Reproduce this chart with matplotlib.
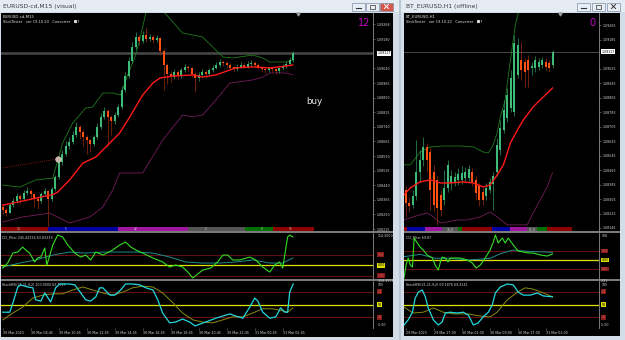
import matplotlib
matplotlib.use("Agg")
import matplotlib.pyplot as plt
from matplotlib.patches import Rectangle
from matplotlib.transforms import blended_transform_factory as blend

# ---------------- left chart: EURUSD M15 ----------------
L_OPEN = [1.08330, 1.08315, 1.08300, 1.08340, 1.08360, 1.08385, 1.08370, 1.08400, 1.08410, 1.08395,
          1.08370, 1.08360, 1.08395, 1.08410, 1.08370, 1.08420, 1.08480, 1.08560, 1.08600, 1.08640,
          1.08660, 1.08700, 1.08740, 1.08715, 1.08690, 1.08670, 1.08650, 1.08690, 1.08740, 1.08790,
          1.08820, 1.08790, 1.08770, 1.08800, 1.08840, 1.08930, 1.09000, 1.09080, 1.09150, 1.09200,
          1.09180, 1.09210, 1.09190, 1.09200, 1.09185, 1.09195, 1.09130, 1.09060, 1.09010, 1.08995,
          1.09020, 1.09000, 1.09030, 1.09050, 1.09040, 1.09010, 1.08990, 1.09005, 1.09020, 1.09010,
          1.09030, 1.09045, 1.09060, 1.09075, 1.09070, 1.09060, 1.09045, 1.09035, 1.09050, 1.09060,
          1.09050, 1.09065, 1.09070, 1.09060, 1.09045, 1.09035, 1.09030, 1.09040, 1.09035, 1.09025,
          1.09040, 1.09055, 1.09065, 1.09085]
L_CLOSE = [1.08315, 1.08300, 1.08340, 1.08360, 1.08385, 1.08370, 1.08400, 1.08410, 1.08395, 1.08370,
           1.08360, 1.08395, 1.08410, 1.08370, 1.08420, 1.08480, 1.08560, 1.08600, 1.08640, 1.08660,
           1.08700, 1.08740, 1.08715, 1.08690, 1.08670, 1.08650, 1.08690, 1.08740, 1.08790, 1.08820,
           1.08790, 1.08770, 1.08800, 1.08840, 1.08930, 1.09000, 1.09080, 1.09150, 1.09200, 1.09180,
           1.09210, 1.09190, 1.09200, 1.09185, 1.09195, 1.09130, 1.09060, 1.09010, 1.08995, 1.09020,
           1.09000, 1.09030, 1.09050, 1.09040, 1.09010, 1.08990, 1.09005, 1.09020, 1.09010, 1.09030,
           1.09045, 1.09060, 1.09075, 1.09070, 1.09060, 1.09045, 1.09035, 1.09050, 1.09060, 1.09050,
           1.09065, 1.09070, 1.09060, 1.09045, 1.09035, 1.09030, 1.09040, 1.09035, 1.09025, 1.09040,
           1.09055, 1.09065, 1.09085, 1.09117]
L_HIGH = [1.08345, 1.08325, 1.08350, 1.08375, 1.08400, 1.08395, 1.08415, 1.08430, 1.08420, 1.08400,
          1.08380, 1.08405, 1.08425, 1.08415, 1.08430, 1.08495, 1.08585, 1.08620, 1.08665, 1.08690,
          1.08720, 1.08765, 1.08750, 1.08725, 1.08700, 1.08680, 1.08700, 1.08760, 1.08810, 1.08840,
          1.08830, 1.08800, 1.08815, 1.08860, 1.08950, 1.09020, 1.09100, 1.09175, 1.09225, 1.09210,
          1.09230, 1.09250, 1.09215, 1.09210, 1.09210, 1.09200, 1.09140, 1.09070, 1.09025, 1.09035,
          1.09030, 1.09045, 1.09065, 1.09060, 1.09050, 1.09020, 1.09020, 1.09035, 1.09030, 1.09045,
          1.09060, 1.09075, 1.09090, 1.09085, 1.09080, 1.09070, 1.09055, 1.09065, 1.09075, 1.09070,
          1.09080, 1.09085, 1.09080, 1.09070, 1.09055, 1.09045, 1.09050, 1.09050, 1.09045, 1.09050,
          1.09065, 1.09080, 1.09100, 1.09130]
L_LOW = [1.08290, 1.08280, 1.08295, 1.08330, 1.08350, 1.08345, 1.08360, 1.08390, 1.08370, 1.08330,
         1.08320, 1.08350, 1.08385, 1.08215, 1.08360, 1.08410, 1.08470, 1.08545, 1.08590, 1.08625,
         1.08650, 1.08690, 1.08680, 1.08640, 1.08600, 1.08610, 1.08640, 1.08680, 1.08730, 1.08780,
         1.08640, 1.08700, 1.08755, 1.08790, 1.08830, 1.08920, 1.08990, 1.09070, 1.09140, 1.09160,
         1.09170, 1.09175, 1.09180, 1.09170, 1.09175, 1.09110, 1.08930, 1.08960, 1.08970, 1.08985,
         1.08980, 1.08990, 1.09020, 1.09025, 1.08995, 1.08920, 1.08975, 1.08995, 1.08990, 1.09000,
         1.09020, 1.09035, 1.09050, 1.09055, 1.09045, 1.09030, 1.09020, 1.09025, 1.09040, 1.09040,
         1.09040, 1.09055, 1.09050, 1.09035, 1.09020, 1.09015, 1.09020, 1.09020, 1.09010, 1.09015,
         1.09030, 1.09045, 1.09055, 1.09075]

L_MA_X = [0, 5.7, 12.3, 14.3, 15.7, 19.1, 22.9, 26.6, 28.6, 33.4, 36.3, 40, 42.9, 44.9, 48.6, 54.3,
          57.1, 60.9, 66.6, 71.4, 76.3, 79.1, 82.9]
L_MA = [1.08338, 1.08359, 1.08385, 1.08392, 1.08405, 1.08467, 1.08554, 1.08585, 1.08621, 1.08708,
        1.08791, 1.08904, 1.08965, 1.08991, 1.09001, 1.09007, 1.08996, 1.09007, 1.09043, 1.09048,
        1.09043, 1.09048, 1.09058]
L_UP_X = [0, 4.9, 9.4, 14.3, 17.1, 20, 23.7, 25.7, 28.6, 31.4, 33.7, 35.7, 37.7, 39.1, 40.9, 42.9,
          44.6, 46.3, 48.6, 51.4, 57.1, 60, 62.9, 65.7, 71.4, 74.3, 76.3, 80.9, 82.9]
L_UP = [1.08441, 1.08431, 1.08467, 1.08477, 1.08657, 1.08760, 1.08837, 1.08842, 1.08914, 1.08914,
        1.08904, 1.09007, 1.09094, 1.09186, 1.09325, 1.09418, 1.09418, 1.09325, 1.09279, 1.09222,
        1.09202, 1.09150, 1.09099, 1.09094, 1.09109, 1.09094, 1.09073, 1.09073, 1.09084]
L_DN_X = [0, 5.7, 13.4, 19.1, 24.9, 28.6, 31.4, 33.4, 40, 45.7, 51.4, 54.3, 57.1, 60.9, 64.9, 71.4,
          74.3, 76.3, 80.9, 82.9]
L_DN = [1.08251, 1.08277, 1.08297, 1.08246, 1.08277, 1.08328, 1.08415, 1.08503, 1.08503, 1.08672,
        1.08801, 1.08791, 1.08801, 1.08878, 1.08965, 1.08981, 1.08996, 1.09017, 1.09017, 1.09007]
TRADE_X = [0, 15.7]
TRADE_Y = [1.08529, 1.08575]

L_PRICE_TICKS = [1.09268, 1.09190, 1.09040, 1.08965, 1.08890, 1.08815, 1.08740, 1.08665,
                 1.08590, 1.08515, 1.08440, 1.08365, 1.08290, 1.08215]
CURRENT_PRICE = 1.09117

L_STRIP = [(-0.5, 12.9, "#8e0000", "14"), (12.9, 32.9, "#0000a0", "5"), (32.9, 52.9, "#a016a0", "22"),
           (52.9, 69.1, "#555555", "2"), (69.1, 77.1, "#007000", "0"), (77.1, 88.9, "#8e0000", "15")]

L_CCI_X = [0, 1.4, 2.9, 4.3, 5.7, 6.6, 7.7, 9.1, 10, 10.9, 12, 12.6, 14.3, 15.7, 17.1, 18.6, 20.6,
           22.3, 23.7, 25.1, 26.6, 28.6, 31.4, 33.4, 35.1, 36.6, 38, 40, 42.9, 45.7, 47.7, 49.4,
           51.4, 52.9, 54.3, 57.1, 59.4, 61.4, 62.9, 64.3, 65.7, 67.7, 70.6, 72.3, 74.3, 76.3,
           77.7, 79.1, 80, 81.4, 82, 82.9]
L_CCI = [-29, 19, 114, 124, 171, 143, 114, 29, 67, 76, 162, 0, 190, 286, 267, 190, 114, 76, 95, 48,
         124, 95, 143, 190, 219, 171, 143, 114, 67, 29, -19, 0, -19, -67, -124, -48, -29, 29, 95,
         95, 48, 48, 76, 48, -19, -67, 0, 29, -29, 267, 286, 267]
L_CCI_SIG_X = [0, 4.9, 9.4, 14.3, 19.1, 23.7, 28.6, 33.4, 38, 42.9, 47.7, 52.3, 57.1, 62, 66.6,
               71.4, 76.3, 80, 82.9]
L_CCI_SIG = [-19, 19, 48, 95, 124, 114, 124, 124, 124, 114, 76, 29, 19, 19, 29, 48, 19, 19, 67]

L_ST_X = [0, 2, 2.9, 4.3, 5.1, 7.1, 8.6, 9.4, 10.9, 12, 13.7, 15.1, 16.3, 17.1, 19.1, 20.6, 22.3,
          23.7, 25.1, 26.6, 27.7, 28.6, 30.6, 32, 33.7, 35.1, 37.1, 39.1, 40.9, 42.9, 44.3, 45.7,
          47.7, 49.4, 51.4, 53.4, 54.9, 56.3, 58, 60.9, 64.9, 66.6, 68.6, 70.6, 72, 72.9, 74.3,
          76.3, 78, 79.4, 80.6, 81.4, 82, 83]
L_ST = [32, 32, 54, 91, 96, 91, 89, 61, 58, 77, 56, 89, 98, 98, 98, 96, 77, 61, 58, 68, 89, 89, 72,
        72, 84, 98, 98, 96, 89, 84, 61, 30, 7, 9, 16, 9, 0, 4, 9, 18, 28, 23, 18, 44, 65, 58, 32,
        18, 21, 42, 32, 32, 79, 98]
L_ST_SIG_X = [0, 2.9, 5.7, 8.6, 11.4, 14.3, 17.1, 20, 22.9, 25.7, 28.6, 31.4, 34.3, 37.1, 40, 42.9,
              45.7, 48.6, 51.4, 54.3, 57.1, 60, 62.9, 65.7, 68.6, 71.4, 74.3, 77.1, 80, 81.4, 82.9]
L_ST_SIG = [14, 30, 44, 65, 72, 75, 75, 84, 91, 84, 77, 72, 79, 89, 93, 91, 77, 54, 30, 14, 9, 7,
            14, 21, 21, 30, 40, 40, 35, 32, 42]

L_TIME_TICKS = [0, 8, 16, 24, 32, 40, 48, 56, 64, 72, 80]
L_TIME_LABELS = ["30 Mar 2023", "30 Mar 08:45", "30 Mar 10:45", "30 Mar 12:45", "30 Mar 14:45",
                 "30 Mar 16:45", "30 Mar 18:45", "30 Mar 20:45", "30 Mar 22:45", "31 Mar 00:45",
                 "31 Mar 02:45"]

# ---------------- right chart: BT_EURUSD H1 ----------------
R_OPEN = [1.08356, 1.08284, 1.08273, 1.08323, 1.08455, 1.08521, 1.08593, 1.08565, 1.08455, 1.08411,
          1.08328, 1.08300, 1.08367, 1.08394, 1.08400, 1.08411, 1.08411, 1.08422, 1.08422, 1.08455,
          1.08411, 1.08378, 1.08345, 1.08323, 1.08356, 1.08389, 1.08455, 1.08576, 1.08687, 1.08753,
          1.08808, 1.08786, 1.08990, 1.09073, 1.09062, 1.09073, 1.09029, 1.09029, 1.09034, 1.09045,
          1.09062, 1.09056, 1.09045]
R_CLOSE = [1.08284, 1.08267, 1.08323, 1.08455, 1.08521, 1.08593, 1.08521, 1.08356, 1.08273, 1.08256,
           1.08245, 1.08367, 1.08494, 1.08433, 1.08427, 1.08444, 1.08449, 1.08455, 1.08471, 1.08400,
           1.08339, 1.08300, 1.08300, 1.08367, 1.08400, 1.08433, 1.08604, 1.08698, 1.08797, 1.08880,
           1.08974, 1.09167, 1.09156, 1.09018, 1.09007, 1.09018, 1.09040, 1.09073, 1.09062, 1.09073,
           1.09034, 1.09029, 1.09117]
R_HIGH = [1.08378, 1.08317, 1.08356, 1.08632, 1.08576, 1.08648, 1.08615, 1.08587, 1.08494, 1.08433,
          1.08356, 1.08466, 1.08521, 1.08466, 1.08455, 1.08477, 1.08488, 1.08483, 1.08494, 1.08477,
          1.08433, 1.08394, 1.08367, 1.08394, 1.08422, 1.08455, 1.08643, 1.08742, 1.08852, 1.08918,
          1.09018, 1.09211, 1.09194, 1.09172, 1.09084, 1.09100, 1.09062, 1.09095, 1.09084, 1.09089,
          1.09084, 1.09073, 1.09128]
R_LOW = [1.08207, 1.08234, 1.08256, 1.08300, 1.08400, 1.08488, 1.08455, 1.08245, 1.08234, 1.08163,
         1.08212, 1.08273, 1.08345, 1.08356, 1.08378, 1.08383, 1.08389, 1.08400, 1.08400, 1.08378,
         1.08300, 1.08267, 1.08273, 1.08300, 1.08339, 1.08245, 1.08433, 1.08549, 1.08670, 1.08731,
         1.08786, 1.08764, 1.08974, 1.08963, 1.08924, 1.08924, 1.08990, 1.09007, 1.09018, 1.09029,
         1.09018, 1.09007, 1.09029]

R_MA_X = [-0.5, 1.3, 4.1, 7, 9.9, 12.7, 16.4, 19.3, 22.1, 24.1, 26.1, 27.9, 29.9, 31.9, 33.6, 36.4,
          39.3, 41.9]
R_MA = [1.08328, 1.08367, 1.08400, 1.08411, 1.08394, 1.08394, 1.08400, 1.08394, 1.08372, 1.08383,
        1.08438, 1.08494, 1.08615, 1.08687, 1.08742, 1.08814, 1.08869, 1.08918]
R_UP_X = [-0.5, 1.3, 4.1, 7, 10.7, 15.6, 19.3, 22.1, 23.6, 25, 26.1, 27, 28.4, 29.9, 31.3, 32.7]
R_UP = [1.08494, 1.08494, 1.08565, 1.08593, 1.08598, 1.08598, 1.08593, 1.08565, 1.08560, 1.08604,
        1.08670, 1.08758, 1.08852, 1.09073, 1.09266, 1.09376]
R_DN_X = [-0.5, 2.1, 6.1, 7.9, 9.9, 11.9, 14.7, 17.6, 21.3, 24.1, 26.1, 29, 34.7, 36.4, 38.4, 40.4, 41.9]
R_DN = [1.08190, 1.08207, 1.08229, 1.08207, 1.08174, 1.08179, 1.08190, 1.08190, 1.08207, 1.08234,
        1.08207, 1.08163, 1.08163, 1.08229, 1.08300, 1.08372, 1.08449]

R_PRICE_TICKS = [1.09265, 1.09185, 1.09025, 1.08945, 1.08865, 1.08785, 1.08705, 1.08625,
                 1.08545, 1.08465, 1.08385, 1.08305, 1.08225, 1.08146]

R_STRIP = [(-0.7, 0.4, "#8e0000", ""), (0.4, 5.6, "#0000a0", ""), (5.6, 10.4, "#a016a0", ""),
           (10.4, 15.0, "#555555", "30_0"), (15.0, 16.1, "#007000", ""), (16.1, 24.7, "#8e0000", ""),
           (24.7, 29.9, "#0000a0", ""), (29.9, 34.7, "#a016a0", ""), (34.7, 37.6, "#555555", "31_0"),
           (37.6, 40.4, "#007000", ""), (40.4, 47.6, "#8e0000", "")]

R_CCI_X = [-0.5, 0.1, 0.7, 1.3, 1.9, 2.4, 3.3, 4.1, 5, 6.1, 7.6, 8.4, 9.3, 9.9, 10.4, 11.3, 12.1,
           12.7, 14.1, 15.6, 17.6, 19, 20.1, 21.3, 22.7, 24.1, 25, 25.6, 26.4, 27.6, 28.4, 29.3,
           30.7, 32.1, 33.6, 35, 36.4, 38.4, 40.4, 41.9]
R_CCI = [-200, -56, 22, -56, -78, 244, 189, 144, 111, 56, 22, -56, -111, -22, 33, 22, -22, 22, 22,
         22, 0, -33, -89, -56, 22, 111, 200, 278, 189, 244, 189, 244, 167, 100, 89, 78, 78, 56, 44, 67]
R_CCI_SIG_X = [-0.5, 4.1, 8.4, 12.7, 17.6, 21.3, 24.1, 27, 30.7, 33.6, 36.4, 39.3, 41.9]
R_CCI_SIG = [37, 63, 19, 19, 0, 10, 19, 70, 111, 100, 93, 90, 85]

R_ST_X = [-0.5, 0.7, 1.9, 2.7, 3.6, 4.7, 5.6, 6.4, 7.9, 9.3, 10.4, 11.3, 12.7, 14.7, 16.4, 17.9,
          19.3, 20.7, 22.1, 23.6, 24.7, 25.6, 27, 29, 30.7, 32.1, 33.6, 35.6, 37.6, 39.3, 41.9]
R_ST = [2, 14, 32, 65, 79, 84, 68, 42, 14, 2, 9, 30, 32, 30, 32, 25, 2, 7, 21, 32, 49, 77, 91, 98,
        96, 79, 72, 72, 77, 70, 68]
R_ST_SIG_X = [-0.5, 2.1, 5, 7.9, 10.7, 13.6, 17.6, 21.3, 24.1, 26.1, 29, 31.9, 34.1, 36.4, 39.3, 41.9]
R_ST_SIG = [44, 30, 32, 42, 32, 28, 28, 23, 21, 32, 61, 79, 89, 86, 77, 68]

R_TIME_TICKS = [0, 8, 16, 24, 32, 40]
R_TIME_LABELS = ["29 Mar 2023", "29 Mar 17:00", "30 Mar 01:00", "30 Mar 09:00", "30 Mar 17:00",
                 "31 Mar 01:00"]

# ---------------- figure ----------------
W, H = 625, 340
fig = plt.figure(figsize=(W / 100, H / 100), dpi=100)

GRID = "#8c8c8c"
TXT = "#d6d6d6"
SMALL = 2.3


def px_axes(x0, y0, x1, y1):
    return fig.add_axes([x0 / W, 1 - y1 / H, (x1 - x0) / W, (y1 - y0) / H])


bg = px_axes(0, 0, W, H)
bg.set_xlim(0, W)
bg.set_ylim(H, 0)
bg.axis("off")


def rect(x, y, w, h, fc, ec="none", lw=0.0):
    bg.add_patch(Rectangle((x, y), w, h, facecolor=fc, edgecolor=ec, linewidth=lw))


# window chrome
rect(0, 0, W, H, "#b9c6d6")
for wx, ww in ((0, 399), (401, 224)):
    rect(wx, 0, ww, H, "#d2dde9")
    rect(wx, 0, ww, 12, "#e4ebf3")
rect(1, 13, 392, 324, "black")
rect(404, 13, 216, 323, "black")
for sx, sw in ((1, 392), (404, 216)):
    rect(sx, 231, sw, 2, "#7a7a7a")
    rect(sx, 279, sw, 2, "#7a7a7a")

bg.text(3, 6.5, "EURUSD-cd,M15 (visual)", fontsize=4.3, color="#3c3c3c", va="center")
bg.text(406, 6.5, "BT_EURUSD,H1 (offline)", fontsize=4.3, color="#3c3c3c", va="center")


def button(x, w, fc):
    rect(x, 2.5, w, 8, fc, ec="#7d8fa6", lw=0.5)


for bx, bw, bc in ((352, 13, "#e9eef5"), (366, 13, "#e9eef5"), (380, 13, "#d6574a"),
                   (577, 13, "#e9eef5"), (592, 13, "#e9eef5"), (607, 13, "#e9eef5")):
    button(bx, bw, bc)
for bx in (352, 577):
    bg.plot([bx + 4, bx + 9], [8, 8], color="#333333", lw=0.8)
for bx in (366, 592):
    bg.add_patch(Rectangle((bx + 4, 4.5), 5, 4, fill=False, ec="#333333", lw=0.5))
for bx, col in ((380, "white"), (607, "#333333")):
    bg.plot([bx + 4.5, bx + 8.5], [4.5, 8.5], color=col, lw=0.7)
    bg.plot([bx + 4.5, bx + 8.5], [8.5, 4.5], color=col, lw=0.7)

# chart header texts
bg.text(3, 16.5, "EURUSD-cd,M15", fontsize=2.8, color="#e0e0e0", va="center")
bg.text(3, 22, "SlickTester   ver 19.10.20   Converter   \u25a07", fontsize=2.6, color="#e0e0e0", va="center")
bg.text(406, 16.5, "BT_EURUSD,H1", fontsize=2.8, color="#e0e0e0", va="center")
bg.text(406, 22, "SlickTester   ver 19.10.20   Converter   \u25a07", fontsize=2.6, color="#e0e0e0", va="center")
bg.text(364, 23, "12", fontsize=7, color="#c400c4", ha="center", va="center")
bg.text(592, 23, "0", fontsize=7, color="#c400c4", ha="center", va="center")
bg.text(306, 101, "buy", fontsize=6.3, color="#ececec", va="center")
bg.plot(298, 14.3, marker="v", ms=2.2, color="#9a9a9a")
bg.plot(560, 14.3, marker="v", ms=2.2, color="#9a9a9a")
bg.text(2, 237, "CCI_Filter 245.42334 63.83239", fontsize=SMALL, color=TXT, va="center")
bg.text(406, 237, "CCI_Filter 69.87", fontsize=SMALL, color=TXT, va="center")
bg.text(2, 285, "StochRSI(21,21,9,2) 100.0000 63.7717", fontsize=SMALL, color=TXT, va="center")
bg.text(406, 285, "StochRSI(21,21,9,2) 69.1876 69.3241", fontsize=SMALL, color=TXT, va="center")


def style(ax, xlim, ylim):
    ax.set_facecolor("none")
    ax.set_xlim(*xlim)
    ax.set_ylim(*ylim)
    for s in ("left", "top", "bottom"):
        ax.spines[s].set_visible(False)
    ax.spines["right"].set_color(GRID)
    ax.spines["right"].set_linewidth(0.6)
    ax.yaxis.tick_right()
    ax.tick_params(axis="y", colors=GRID, labelcolor=TXT, labelsize=SMALL,
                   length=1.5, width=0.4, pad=0.8)
    ax.set_xticks([])


def side_label(ax, y, text, fc=None, tc=TXT, frac=False):
    tr = blend(ax.transAxes, ax.transAxes if frac else ax.transData)
    kw = dict(fontsize=SMALL, color=tc, ha="left", va="center", transform=tr, clip_on=False)
    if fc:
        kw["bbox"] = dict(boxstyle="square,pad=0.15", fc=fc, ec="none")
    ax.text(1.012, y, text, **kw)


def draw_candles(ax, o, h, l, c):
    xs = range(len(o))
    up = [c[i] >= o[i] for i in xs]
    wick = ["#2f9a60" if u else "#9a2a0c" for u in up]
    body = ["#3dbb77" if u else "#ff5012" for u in up]
    lo = [min(o[i], c[i]) for i in xs]
    ht = [max(abs(c[i] - o[i]), 0.00002) for i in xs]
    ax.vlines(list(xs), l, h, colors=wick, lw=0.5, zorder=2)
    ax.bar(list(xs), ht, bottom=lo, width=0.62, color=body, lw=0, zorder=3)


def draw_strip(ax, segs, ymax):
    tr = blend(ax.transData, ax.transAxes)
    for x0, x1, col, lbl in segs:
        ax.add_patch(Rectangle((x0, 0), x1 - x0, ymax, transform=tr, fc=col, ec="none", zorder=4))
        if lbl:
            ax.text((x0 + x1) / 2 if len(lbl) > 2 else x0 + 5, ymax / 2, lbl, transform=tr,
                    fontsize=2.1, color="#dcdcdc", ha="center", va="center", zorder=5)


def main_panel(ax, o, h, l, c, ma, up, dn, ticks, xlim, ylim, strip, line_w):
    style(ax, xlim, ylim)
    ax.axhline(CURRENT_PRICE, color="#474747", lw=line_w, zorder=1)
    ax.plot(up[0], up[1], color="#1e7a1e", lw=0.6, zorder=2)
    ax.plot(dn[0], dn[1], color="#751c5c", lw=0.6, zorder=2)
    draw_candles(ax, o, h, l, c)
    ax.plot(ma[0], ma[1], color="#ff1a1a", lw=1.0, zorder=4)
    ax.set_yticks(ticks)
    ax.set_yticklabels(["%.5f" % t for t in ticks])
    side_label(ax, CURRENT_PRICE, "%.5f" % CURRENT_PRICE, fc="white", tc="black")
    draw_strip(ax, strip, 4 / 218)


def cci_panel(ax, x, v, sx, sv, xlim, ylim, top, bottom):
    style(ax, xlim, ylim)
    ax.set_yticks([])
    ax.axhline(100, color="#7a1515", lw=0.6)
    ax.axhline(-100, color="#7a1515", lw=0.6)
    ax.axhline(0, color="#e0e000", lw=0.9)
    ax.plot(sx, sv, color="#1e8c8c", lw=0.7)
    ax.plot(x, v, color="#33dd22", lw=0.8)
    side_label(ax, 0.935, top, frac=True)
    side_label(ax, 100, "100", fc="#8b1a1a", tc="#d06060")
    side_label(ax, 0, "0.00", fc="#e0e000", tc="black")
    side_label(ax, -100, "-100", fc="#8b1a1a", tc="#d06060")
    side_label(ax, -0.04, bottom, frac=True)


def stoch_panel(ax, x, v, sx, sv, xlim, ticks, labels):
    style(ax, xlim, (-5, 105))
    ax.set_yticks([])
    ax.axhline(80, color="#7a1515", lw=0.6)
    ax.axhline(20, color="#7a1515", lw=0.6)
    ax.axhline(50, color="#e0e000", lw=0.9)
    ax.plot(sx, sv, color="#8a8a10", lw=0.7)
    ax.plot(x, v, color="#22d8e0", lw=0.9)
    side_label(ax, 0.915, "105", frac=True)
    side_label(ax, 80, "80", fc="#8b1a1a", tc="#d06060")
    side_label(ax, 50, "50", fc="#e0e000", tc="black")
    side_label(ax, 20, "20", fc="#8b1a1a", tc="#d06060")
    side_label(ax, 0.07, "-5.00", frac=True)
    ax.set_xticks(ticks)
    ax.set_xticklabels(labels, ha="left")
    ax.tick_params(axis="x", colors=GRID, labelcolor=TXT, labelsize=SMALL,
                   length=1.5, width=0.4, pad=0.8)


# left window panels
L_XLIM = (-0.5, 105.8)
axl = px_axes(1, 13, 373, 231)
main_panel(axl, L_OPEN, L_HIGH, L_LOW, L_CLOSE, (L_MA_X, L_MA), (L_UP_X, L_UP), (L_DN_X, L_DN),
           L_PRICE_TICKS, L_XLIM, (1.08205, 1.09325), L_STRIP, 1.8)
axl.plot(TRADE_X, TRADE_Y, color="#b22222", lw=0.6, ls=":", zorder=5)
axl.plot(TRADE_X[-1], TRADE_Y[-1], "o", ms=4, mfc="#c8b4a8", mec="#e6d8d0", mew=0.4, zorder=6)

axl_cci = px_axes(1, 233, 373, 279)
cci_panel(axl_cci, L_CCI_X, L_CCI, L_CCI_SIG_X, L_CCI_SIG, L_XLIM, (-133, 305), "114.30000", "-156.1578")

axl_st = px_axes(1, 281, 373, 328)
stoch_panel(axl_st, L_ST_X, L_ST, L_ST_SIG_X, L_ST_SIG, L_XLIM, L_TIME_TICKS, L_TIME_LABELS)

# right window panels
R_XLIM = (-0.5, 55.2)
axr = px_axes(404, 13, 599, 231)
main_panel(axr, R_OPEN, R_HIGH, R_LOW, R_CLOSE, (R_MA_X, R_MA), (R_UP_X, R_UP), (R_DN_X, R_DN),
           R_PRICE_TICKS, R_XLIM, (1.08129, 1.09332), R_STRIP, 0.7)

axr_cci = px_axes(404, 233, 599, 279)
cci_panel(axr_cci, R_CCI_X, R_CCI, R_CCI_SIG_X, R_CCI_SIG, R_XLIM, (-211, 300), "108", "-221")

axr_st = px_axes(404, 281, 599, 328)
stoch_panel(axr_st, R_ST_X, R_ST, R_ST_SIG_X, R_ST_SIG, R_XLIM, R_TIME_TICKS, R_TIME_LABELS)

fig.savefig("out.png", dpi=100, facecolor=fig.get_facecolor())
